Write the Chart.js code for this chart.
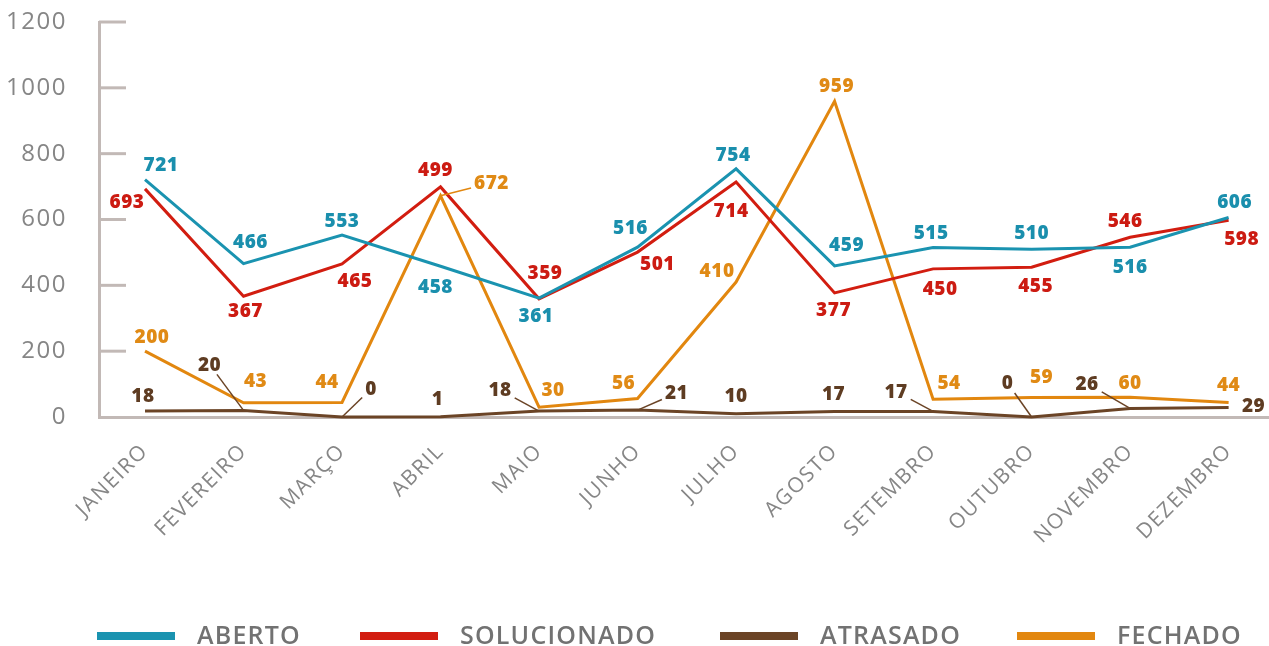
<!DOCTYPE html>
<html lang="pt-BR">
<head>
<meta charset="utf-8">
<title>Chamados por mês</title>
<script src="https://cdn.jsdelivr.net/npm/chart.js@4.4.1/dist/chart.umd.min.js"></script>
<style>
  html, body { margin: 0; padding: 0; background: #fff; }
  #wrap { width: 1269px; height: 646px; position: relative; }
</style>
</head>
<body>
<div id="wrap"><canvas id="grafico"></canvas></div>
<script>
// dados
const meses = ["JANEIRO", "FEVEREIRO", "MARÇO", "ABRIL", "MAIO", "JUNHO",
               "JULHO", "AGOSTO", "SETEMBRO", "OUTUBRO", "NOVEMBRO", "DEZEMBRO"];
const aberto      = [721, 466, 553, 458, 361, 516, 754, 459, 515, 510, 516, 606];
const solucionado = [693, 367, 465, 699, 359, 501, 714, 377, 450, 455, 546, 598];
// no original o rótulo de abril diz 499, mas a linha está em ~700
const solucionadoRotulos = ["693", "367", "465", "499", "359", "501", "714", "377", "450", "455", "546", "598"];
const atrasado    = [18, 20, 0, 1, 18, 21, 10, 17, 17, 0, 26, 29];
const fechado     = [200, 43, 44, 672, 30, 56, 410, 959, 54, 59, 60, 44];
const ticksY      = [0, 200, 400, 600, 800, 1000, 1200];

const FONTE = "'Open Sans', sans-serif";
const CINZA = "#868686";
const EIXO = "#c2b9b6";

// deslocamento de cada rótulo em relação ao ponto [dx, dy, linha guia]
const desloc = {
    aberto: [[16,-15],[7,-22],[0,-14],[-5,20],[-3,17],[-7,-20],[-3,-14],[12,-21],[-2,-15],[0,-17],[0,19],[6,-16]],
    solucionado: [[-18,13],[2,14],[13,17],[-5,-17],[6,-26],[20,12],[-5,29],[-1,17],[7,20],[4,18],[-5,-17],[13,18]],
    atrasado: [[-2,-15],[-34,-46,true],[29,-28,true],[-3,-18],[-39,-21,true],[39,-17,true],[0,-18],[-1,-18],[-37,-20,true],[-24,-34,true],[-43,-25,true],[25,-2]],
    fechado: [[7,-15],[12,-22],[-15,-21],[51,-13,true],[14,-18],[-14,-16],[-19,-11],[2,-16],[16,-17],[10,-21],[0,-15],[0,-18]]
};

const pontos = arr => arr.map((v, i) => ({ x: i, y: v }));

function serie(nome, valores, cor, corRotulo, chave, textos) {
    return {
        label: nome,
        data: pontos(valores),
        borderColor: cor,
        backgroundColor: cor,
        borderWidth: 3,
        pointRadius: 0,
        tension: 0,
        clip: false,
        corRotulo: corRotulo,
        desloc: desloc[chave],
        textos: textos
    };
}

// espaçamento entre letras, como no original
const espacamentoPlugin = {
    id: "espacamento",
    beforeDraw(chart) { chart.ctx.letterSpacing = "1.5px"; },
    afterDraw(chart) { chart.ctx.letterSpacing = "0px"; }
};

// rótulos de dados (sem plugin externo)
const rotulosPlugin = {
    id: "rotulos",
    afterDatasetsDraw(chart) {
        const ctx = chart.ctx;
        ctx.save();
        ctx.letterSpacing = "0.5px";
        ctx.font = "800 19px " + FONTE;
        ctx.textAlign = "center";
        ctx.textBaseline = "middle";
        chart.data.datasets.forEach((ds, di) => {
            const meta = chart.getDatasetMeta(di);
            meta.data.forEach((pt, i) => {
                const d = ds.desloc[i];
                const texto = ds.textos ? ds.textos[i] : String(ds.data[i].y);
                const cx = pt.x + d[0], cy = pt.y + d[1];
                if (d[2]) {
                    const w = ctx.measureText(texto).width / 2 + 3, h = 10;
                    const vx = pt.x - cx, vy = pt.y - cy;
                    const t = Math.min(vx ? w / Math.abs(vx) : 99, vy ? h / Math.abs(vy) : 99);
                    ctx.strokeStyle = ds.borderColor;
                    ctx.lineWidth = 1.5;
                    ctx.beginPath();
                    ctx.moveTo(cx + vx * t, cy + vy * t);
                    ctx.lineTo(pt.x, pt.y);
                    ctx.stroke();
                }
                ctx.fillStyle = ds.corRotulo;
                ctx.fillText(texto, cx, cy + 1);
            });
        });
        ctx.restore();
    }
};

// marcas do eixo Y voltadas para dentro + legenda embaixo
const extrasPlugin = {
    id: "extras",
    afterDraw(chart) {
        const ctx = chart.ctx;
        const y = chart.scales.y;
        const esq = chart.chartArea.left;
        ctx.save();
        ctx.strokeStyle = EIXO;
        ctx.lineWidth = 3;
        ticksY.forEach(v => {
            if (v === 0) return;
            const py = y.getPixelForValue(v);
            ctx.beginPath();
            ctx.moveTo(esq, py);
            ctx.lineTo(esq + 27, py);
            ctx.stroke();
        });

        const xs = [97, 360, 720, 1017];
        ctx.font = "600 25px " + FONTE;
        ctx.letterSpacing = "1.2px";
        ctx.textBaseline = "middle";
        chart.data.datasets.forEach((ds, i) => {
            ctx.fillStyle = ds.borderColor;
            ctx.fillRect(xs[i], 632, 78, 8);
            ctx.fillStyle = "#727272";
            ctx.fillText(ds.label, xs[i] + 100, 637);
        });
        ctx.restore();
    }
};

new Chart(document.getElementById("grafico"), {
    type: "line",
    data: {
        labels: meses,
        datasets: [
            serie("ABERTO", aberto, "#1a93b0", "#1a8fad", "aberto"),
            serie("SOLUCIONADO", solucionado, "#d21d10", "#cc1b12", "solucionado", solucionadoRotulos),
            serie("ATRASADO", atrasado, "#6b4426", "#5e3c22", "atrasado"),
            serie("FECHADO", fechado, "#e2870f", "#e08a15", "fechado")
        ]
    },
    options: {
        responsive: true,
        maintainAspectRatio: false,
        animation: false,
        layout: { padding: { top: 22, right: 0, bottom: 0, left: 0 } },
        plugins: {
            legend: { display: false },
            tooltip: { enabled: false }
        },
        scales: {
            x: {
                type: "linear",
                min: -0.467,
                max: 11.41,
                afterBuildTicks: s => { s.ticks = meses.map((_, i) => ({ value: i })); },
                afterFit: s => { s.height = 229; s.paddingLeft = 0; s.paddingRight = 0; },
                grid: { display: false, drawTicks: false },
                border: { display: true, color: EIXO, width: 3 },
                ticks: {
                    autoSkip: false,
                    minRotation: 45,
                    maxRotation: 45,
                    padding: 22,
                    color: CINZA,
                    font: { family: FONTE, size: 21, weight: 400 },
                    callback: v => meses[v]
                }
            },
            y: {
                min: 0,
                max: 1200,
                afterBuildTicks: s => { s.ticks = ticksY.map(v => ({ value: v })); },
                afterFit: s => { s.width = 99; s.paddingTop = 0; s.paddingBottom = 0; },
                grid: { display: false, drawTicks: false },
                border: { display: true, color: EIXO, width: 3 },
                ticks: {
                    padding: 32,
                    color: CINZA,
                    font: { family: FONTE, size: 24, weight: 400 },
                    callback: v => String(v)
                }
            }
        }
    },
    plugins: [espacamentoPlugin, rotulosPlugin, extrasPlugin]
});
</script>
</body>
</html>
